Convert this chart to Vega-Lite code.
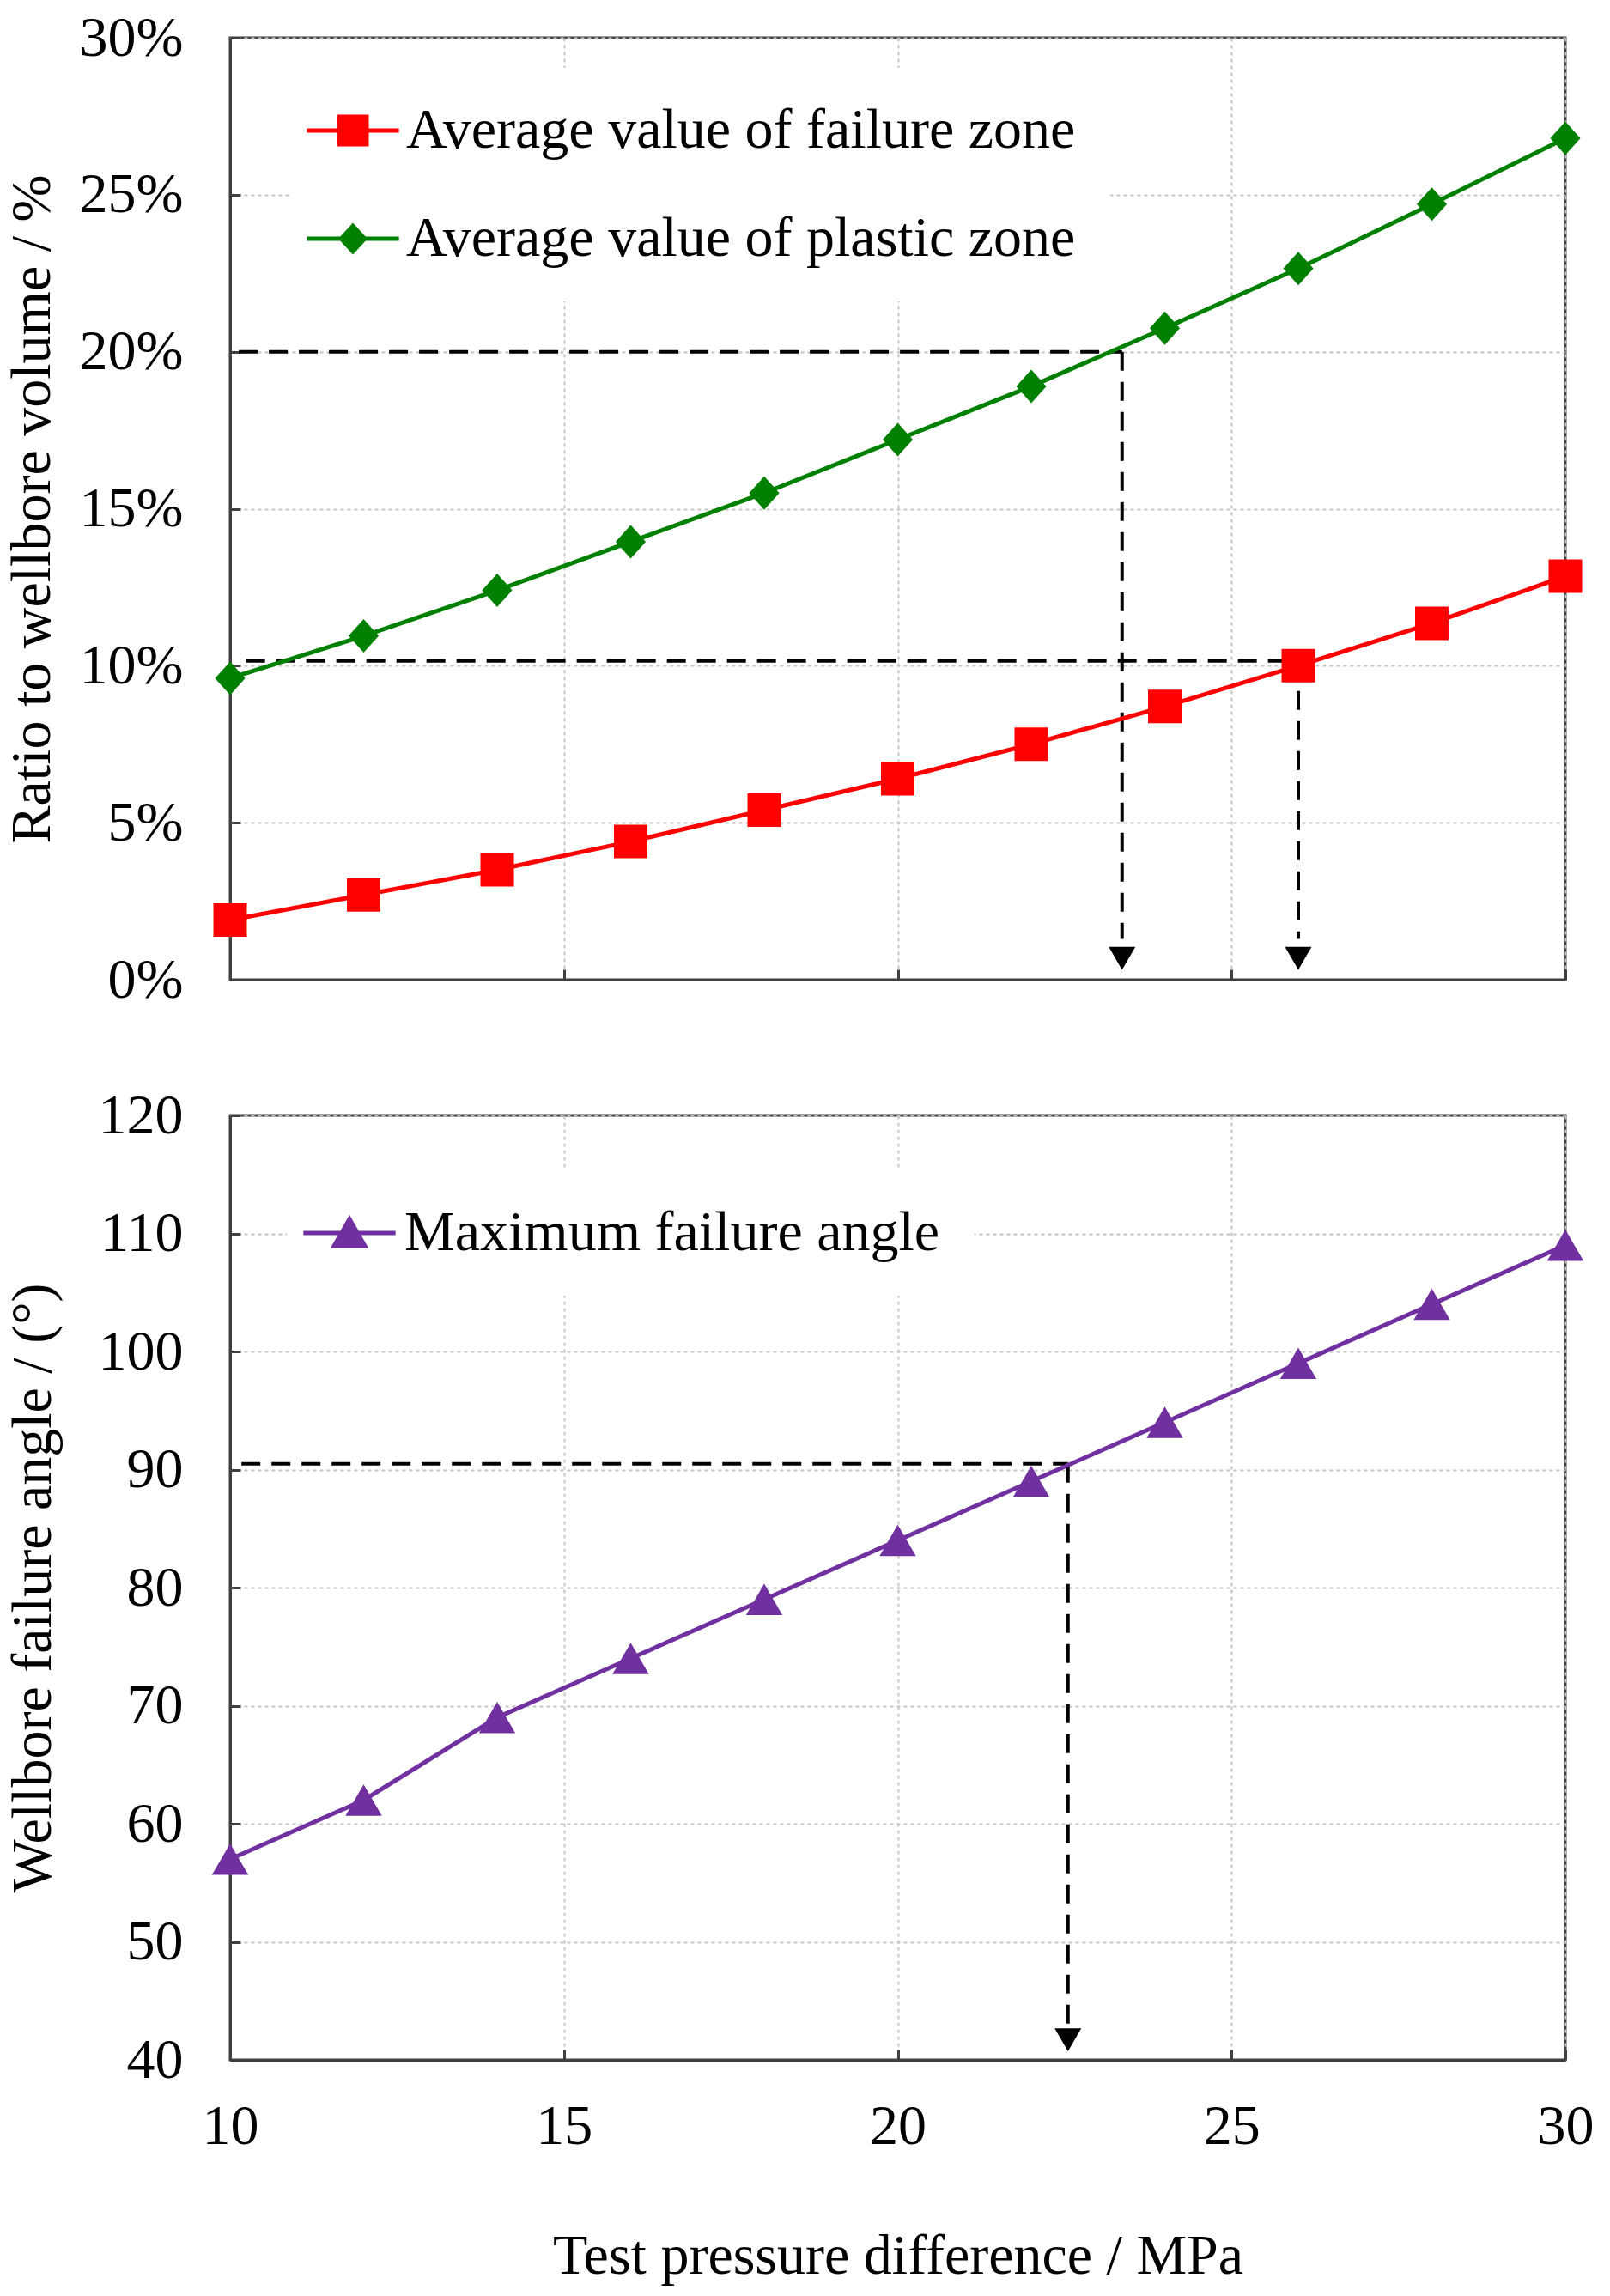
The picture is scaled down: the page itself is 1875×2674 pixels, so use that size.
{
  "$schema": "https://vega.github.io/schema/vega-lite/v6.json",
  "background": "#ffffff",
  "autosize": {"type": "pad"},
  "padding": {"left": 2, "top": 9, "right": 17, "bottom": 20},
  "config": {
    "font": "Liberation Serif",
    "view": {"stroke": "#404040", "strokeWidth": 3},
    "axis": {
      "labelFont": "Liberation Serif",
      "labelFontSize": 66,
      "labelColor": "#000000",
      "labelFlush": false,
      "titleFont": "Liberation Serif",
      "titleFontSize": 66,
      "titleFontWeight": "normal",
      "titleColor": "#000000",
      "domainColor": "#404040",
      "domainWidth": 3,
      "tickColor": "#404040",
      "tickWidth": 3,
      "tickSize": -12,
      "gridColor": "#c4c4c4",
      "gridDash": [4, 4],
      "gridWidth": 2
    },
    "legend": {
      "labelFont": "Liberation Serif",
      "labelFontSize": 66,
      "labelColor": "#000000",
      "padding": 40,
      "labelLimit": 1200
    }
  },
  "datasets": {
    "zones": [
      {"p": 10, "series": "Average value of failure zone", "v": 1.9},
      {"p": 12, "series": "Average value of failure zone", "v": 2.7},
      {"p": 14, "series": "Average value of failure zone", "v": 3.5},
      {"p": 16, "series": "Average value of failure zone", "v": 4.4},
      {"p": 18, "series": "Average value of failure zone", "v": 5.4},
      {"p": 20, "series": "Average value of failure zone", "v": 6.4},
      {"p": 22, "series": "Average value of failure zone", "v": 7.5},
      {"p": 24, "series": "Average value of failure zone", "v": 8.7},
      {"p": 26, "series": "Average value of failure zone", "v": 10.0},
      {"p": 28, "series": "Average value of failure zone", "v": 11.35},
      {"p": 30, "series": "Average value of failure zone", "v": 12.85},
      {"p": 10, "series": "Average value of plastic zone", "v": 9.6},
      {"p": 12, "series": "Average value of plastic zone", "v": 10.95},
      {"p": 14, "series": "Average value of plastic zone", "v": 12.4},
      {"p": 16, "series": "Average value of plastic zone", "v": 13.95},
      {"p": 18, "series": "Average value of plastic zone", "v": 15.5},
      {"p": 20, "series": "Average value of plastic zone", "v": 17.2},
      {"p": 22, "series": "Average value of plastic zone", "v": 18.9},
      {"p": 24, "series": "Average value of plastic zone", "v": 20.75},
      {"p": 26, "series": "Average value of plastic zone", "v": 22.65},
      {"p": 28, "series": "Average value of plastic zone", "v": 24.7},
      {"p": 30, "series": "Average value of plastic zone", "v": 26.8}
    ],
    "angle": [
      {"p": 10, "series": "Maximum failure angle", "v": 57},
      {"p": 12, "series": "Maximum failure angle", "v": 62},
      {"p": 14, "series": "Maximum failure angle", "v": 69},
      {"p": 16, "series": "Maximum failure angle", "v": 74},
      {"p": 18, "series": "Maximum failure angle", "v": 79},
      {"p": 20, "series": "Maximum failure angle", "v": 84},
      {"p": 22, "series": "Maximum failure angle", "v": 89},
      {"p": 24, "series": "Maximum failure angle", "v": 94},
      {"p": 26, "series": "Maximum failure angle", "v": 99},
      {"p": 28, "series": "Maximum failure angle", "v": 104},
      {"p": 30, "series": "Maximum failure angle", "v": 109}
    ],
    "guidesTop": [
      {"x0": 10.13, "x1": 23.36, "y0": 20, "y1": 20},
      {"x0": 23.36, "x1": 23.36, "y0": 20, "y1": 1.3},
      {"x0": 10.24, "x1": 26.0, "y0": 10.15, "y1": 10.15},
      {"x0": 26.0, "x1": 26.0, "y0": 10.15, "y1": 1.3}
    ],
    "arrowsTop": [
      {"x": 23.36, "y": 0.68},
      {"x": 26.0, "y": 0.68}
    ],
    "guidesBottom": [
      {"x0": 10.17, "x1": 22.55, "y0": 90.5, "y1": 90.5},
      {"x0": 22.55, "x1": 22.55, "y0": 90.5, "y1": 42.8}
    ],
    "arrowsBottom": [
      {"x": 22.55, "y": 41.7}
    ]
  },
  "spacing": 88,
  "resolve": {
    "scale": {"color": "independent", "stroke": "independent", "shape": "independent"},
    "legend": {"color": "independent", "stroke": "independent", "shape": "independent"}
  },
  "vconcat": [
    {
      "width": 1555,
      "height": 1097,
      "layer": [
        {
          "data": {"name": "guidesTop"},
          "mark": {"type": "rule", "color": "#000000", "strokeWidth": 4, "strokeDash": [22, 13]},
          "encoding": {
            "x": {"field": "x0", "type": "quantitative", "scale": {"domain": [10, 30]}},
            "x2": {"field": "x1"},
            "y": {"field": "y0", "type": "quantitative", "scale": {"domain": [0, 30]}},
            "y2": {"field": "y1"}
          }
        },
        {
          "data": {"name": "arrowsTop"},
          "mark": {"type": "point", "shape": "triangle-down", "filled": true, "color": "#000000", "size": 961, "opacity": 1},
          "encoding": {
            "x": {"field": "x", "type": "quantitative"},
            "y": {"field": "y", "type": "quantitative"}
          }
        },
        {
          "data": {"name": "zones"},
          "mark": {"type": "line", "strokeWidth": 5},
          "encoding": {
            "x": {"field": "p", "type": "quantitative"},
            "y": {"field": "v", "type": "quantitative"},
            "stroke": {
              "field": "series",
              "type": "nominal",
              "scale": {
                "domain": ["Average value of plastic zone", "Average value of failure zone"],
                "range": ["#008000", "#ff0000"]
              },
              "legend": null
            }
          }
        },
        {
          "data": {"name": "zones"},
          "mark": {"type": "point", "filled": true, "size": 1521, "opacity": 1},
          "encoding": {
            "x": {
              "field": "p",
              "type": "quantitative",
              "scale": {"domain": [10, 30]},
              "axis": {"values": [10, 15, 20, 25, 30], "labels": false, "title": null, "grid": true}
            },
            "y": {
              "field": "v",
              "type": "quantitative",
              "scale": {"domain": [0, 30]},
              "axis": {
                "values": [0, 5, 10, 15, 20, 25, 30],
                "labelExpr": "datum.value + '%'",
                "title": "Ratio to wellbore volume / %",
                "labelPadding": 67,
                "titlePadding": 21,
                "grid": true
              }
            },
            "color": {
              "field": "series",
              "type": "nominal",
              "scale": {
                "domain": ["Average value of failure zone", "Average value of plastic zone"],
                "range": ["#ff0000", "#008000"]
              },
              "legend": {
                "title": null,
                "orient": "none",
                "legendX": 70,
                "legendY": 35,
                "rowPadding": 60,
                "labelOffset": 29,
                "fillColor": "#ffffff",
                "symbolSize": 1369,
                "symbolStrokeWidth": 0,
                "symbolType": {"expr": "datum.value == 'Average value of failure zone' ? 'M-2.9,-0.13H2.9V0.13H-2.9Z M-1,-1H1V1H-1Z' : 'M-2.9,-0.13H2.9V0.13H-2.9Z M0,-1L0.92,0L0,1L-0.92,0Z'"}
              }
            },
            "shape": {
              "field": "series",
              "type": "nominal",
              "scale": {
                "domain": ["Average value of plastic zone", "Average value of failure zone"],
                "range": ["M0,-1L0.9,0L0,1L-0.9,0Z", "square"]
              },
              "legend": null
            }
          }
        }
      ]
    },
    {
      "width": 1555,
      "height": 1100,
      "layer": [
        {
          "data": {"name": "guidesBottom"},
          "mark": {"type": "rule", "color": "#000000", "strokeWidth": 4, "strokeDash": [22, 13]},
          "encoding": {
            "x": {"field": "x0", "type": "quantitative", "scale": {"domain": [10, 30]}},
            "x2": {"field": "x1"},
            "y": {"field": "y0", "type": "quantitative", "scale": {"domain": [40, 120]}},
            "y2": {"field": "y1"}
          }
        },
        {
          "data": {"name": "arrowsBottom"},
          "mark": {"type": "point", "shape": "triangle-down", "filled": true, "color": "#000000", "size": 961, "opacity": 1},
          "encoding": {
            "x": {"field": "x", "type": "quantitative"},
            "y": {"field": "y", "type": "quantitative"}
          }
        },
        {
          "data": {"name": "angle"},
          "mark": {"type": "line", "strokeWidth": 5, "color": "#7030a0"},
          "encoding": {
            "x": {"field": "p", "type": "quantitative"},
            "y": {"field": "v", "type": "quantitative"}
          }
        },
        {
          "data": {"name": "angle"},
          "mark": {"type": "point", "filled": true, "shape": "triangle-up", "size": 1800, "opacity": 1},
          "encoding": {
            "x": {
              "field": "p",
              "type": "quantitative",
              "scale": {"domain": [10, 30]},
              "axis": {
                "values": [10, 15, 20, 25, 30],
                "format": "d",
                "title": "Test pressure difference / MPa",
                "labelPadding": 57,
                "titlePadding": 86,
                "grid": true
              }
            },
            "y": {
              "field": "v",
              "type": "quantitative",
              "scale": {"domain": [40, 120]},
              "axis": {
                "values": [40, 50, 60, 70, 80, 90, 100, 110, 120],
                "title": "Wellbore failure angle / (°)",
                "labelPadding": 67,
                "titlePadding": 42,
                "grid": true
              }
            },
            "color": {
              "field": "series",
              "type": "nominal",
              "scale": {"domain": ["Maximum failure angle"], "range": ["#7030a0"]},
              "legend": {
                "title": null,
                "orient": "none",
                "legendX": 66,
                "legendY": 64,
                "labelOffset": 31,
                "fillColor": "#ffffff",
                "symbolSize": 1369,
                "symbolStrokeWidth": 0,
                "symbolType": "M-2.9,-0.13H2.9V0.13H-2.9Z M0,-1.15L1.2,0.95L-1.2,0.95Z"
              }
            }
          }
        }
      ]
    }
  ]
}
